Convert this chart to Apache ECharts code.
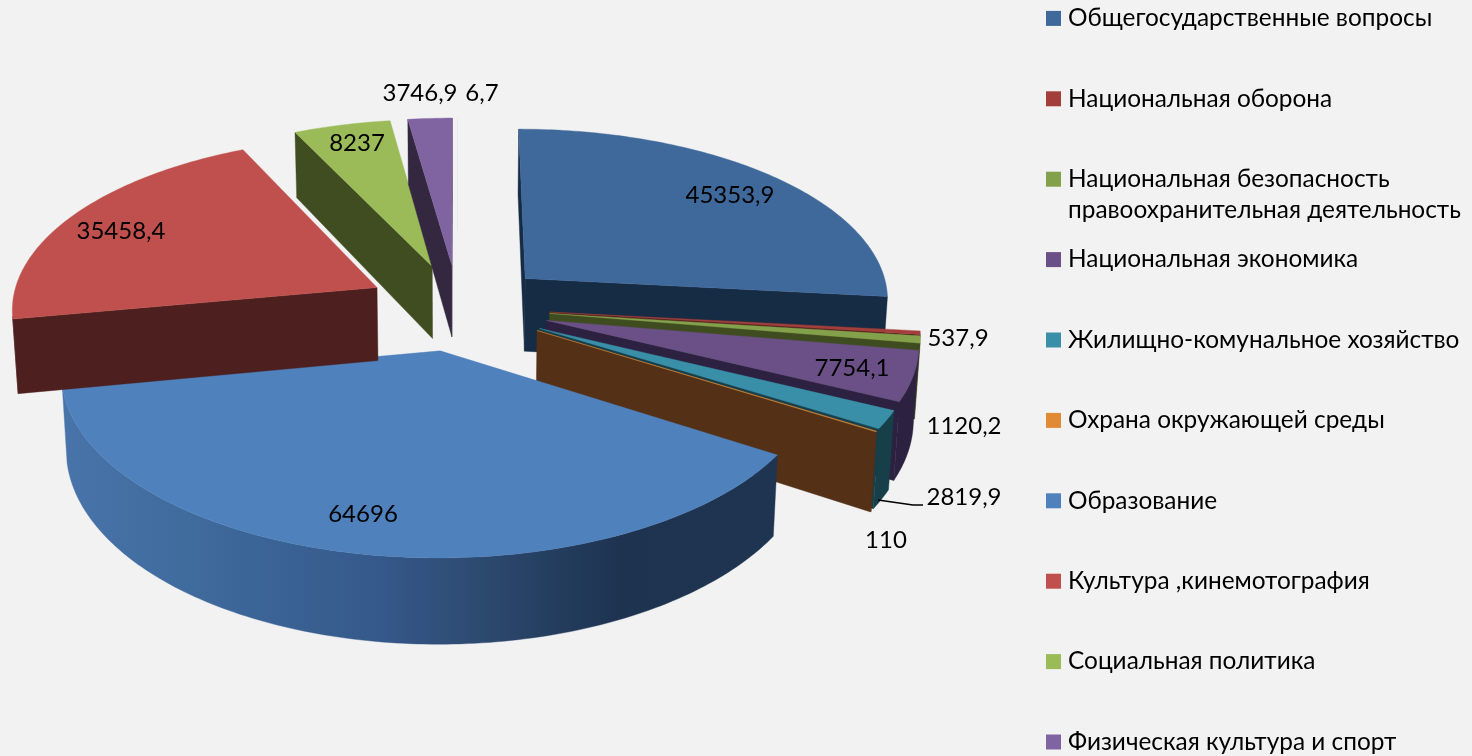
<!DOCTYPE html>
<html>
<head>
<meta charset="utf-8">
<style>
  html, body { margin: 0; padding: 0; background: #f2f2f2; }
  #chart { width: 1472px; height: 756px; }
</style>
<script src="https://cdn.jsdelivr.net/npm/echarts@6/dist/echarts.min.js"></script>
</head>
<body>
<div id="chart"></div>
<script>
// data
const categories = [
  "Общегосударственные вопросы",
  "Национальная оборона",
  "Национальная безопасность",
  "Национальная экономика",
  "Жилищно-комунальное хозяйство",
  "Охрана окружающей среды",
  "Образование",
  "Культура ,кинемотография",
  "Социальная политика",
  "Физическая культура и спорт",
  "Прочие"
];
const values = [45353.9, 537.9, 1120.2, 7754.1, 2819.9, 110, 64696, 35458.4, 8237, 3746.9, 6.7];
const valueLabels = ["45353,9", "537,9", "1120,2", "7754,1", "2819,9", "110", "64696", "35458,4", "8237", "3746,9", "6,7"];

// colours of the top face and the walls
const topColors = ["#3f689b", "#a33e3b", "#83a04a", "#6b5087", "#3a8fa8", "#e08a35", "#4f81bd", "#c0504d", "#9bbb59", "#8064a2", "#8064a2"];
const sideColors = ["#162b44", "#4a1b1a", "#3f4c20", "#2c2140", "#173f4a", "#543017", "#1e3450", "#4d1f1e", "#3f4d21", "#332840", "#332840"];
const legendColors = ["#3f689b", "#a33e3b", "#83a04a", "#6b5087", "#3a8fa8", "#e08a35", "#4f81bd", "#c0504d", "#9bbb59", "#8064a2"];

// label centres in page pixels
const labelCentres = [[730, 195], [958, 338], [964, 426], [852, 368], [964, 497], [886, 540], [363, 514], [121, 231], [357, 143], [420, 93], [482, 93]];

const FONT = "Lato, 'Open Sans', sans-serif";
const LABEL_SIZE = 24;
const LEGEND_SIZE = 24.4;

// perspective of the pie
const CX = 458, CY = 307;
const RADIUS = 366, EXPLODE = 92, DEPTH = 74;
const TILT = 0.4716, PERSP = 0.000312, PERSP_X = 0.0003, DROP = 0.012;

const total = values.reduce((a, b) => a + b, 0);
const rad = (deg) => deg * Math.PI / 180;

// start and end angle of each slice, clockwise from north
let sum = 0;
const angles = values.map((v) => {
  const from = sum / total * 360;
  sum += v;
  return [from, sum / total * 360];
});

const project = (x, y, z) => {
  const wx = 1 + PERSP_X * y + DROP * z;
  const wy = 1 + PERSP * y;
  return [CX + x / wx, CY - TILT * y / wy + DEPTH * z / wy];
};

// signed area, negative means the wall looks at the viewer
const area = (pts) => {
  let s = 0;
  pts.forEach((p, i) => {
    const q = pts[(i + 1) % pts.length];
    s += p[0] * q[1] - q[0] * p[1];
  });
  return s / 2;
};

const polygon = (points, fill, thin) => ({
  type: "polygon",
  shape: { points },
  style: thin ? { fill } : { fill, stroke: fill, lineWidth: 0.4 }
});

const renderSlice = (index) => (params, api) => {
  const [a0, a1] = angles[index];
  const thin = a1 - a0 < 0.1; // the 6,7 slice is narrower than a pixel
  const mid = rad((a0 + a1) / 2);
  const ox = EXPLODE * Math.sin(mid);
  const oy = EXPLODE * Math.cos(mid);
  const rim = (deg) => [ox + RADIUS * Math.sin(rad(deg)), oy + RADIUS * Math.cos(rad(deg))];

  const steps = Math.max(2, Math.ceil(a1 - a0));
  const arc = [];
  for (let i = 0; i <= steps; i++) arc.push(rim(a0 + (a1 - a0) * i / steps));

  const children = [];
  const wallFill = index === 6
    ? new echarts.graphic.LinearGradient(62, 0, 778, 0, [
        { offset: 0, color: "#4874aa" },
        { offset: 0.19, color: "#3f6a9c" },
        { offset: 0.45, color: "#35588a" },
        { offset: 0.58, color: "#2d4a70" },
        { offset: 0.78, color: "#1d3350" },
        { offset: 1, color: "#1e3450" }
      ], true)
    : sideColors[index];

  // radial walls, the one behind is dropped
  const wall = (u, v) => {
    const quad = [project(u[0], u[1], 0), project(v[0], v[1], 0), project(v[0], v[1], 1), project(u[0], u[1], 1)];
    if (area(quad) < 0) children.push(polygon(quad, sideColors[index], thin));
  };
  if (!thin) {
    wall([ox, oy], arc[0]);
    wall(arc[arc.length - 1], [ox, oy]);
  }

  // outer wall, only the part that looks at the viewer
  const upper = [], lower = [];
  for (let i = 0; i < arc.length - 1; i++) {
    const u = arc[i], v = arc[i + 1];
    const quad = [project(u[0], u[1], 0), project(v[0], v[1], 0), project(v[0], v[1], 1), project(u[0], u[1], 1)];
    if (area(quad) < 0) {
      if (!upper.length) { upper.push(quad[0]); lower.push(quad[3]); }
      upper.push(quad[1]);
      lower.push(quad[2]);
    }
  }
  if (upper.length) children.push(polygon(upper.concat(lower.reverse()), wallFill, thin));

  // top face
  const top = [project(ox, oy, 0)].concat(arc.map((p) => project(p[0], p[1], 0)));
  children.push(polygon(top, topColors[index], thin));

  // value label
  children.push({
    type: "text",
    z2: 10,
    style: {
      text: valueLabels[index],
      x: labelCentres[index][0],
      y: labelCentres[index][1],
      align: "center",
      verticalAlign: "middle",
      font: LABEL_SIZE + "px " + FONT,
      fill: "#000"
    }
  });

  // leader line of the 2819,9 label
  if (index === 4) {
    children.push({
      type: "polyline",
      z2: 10,
      shape: { points: [[878, 500], [913, 505], [923, 505]] },
      style: { stroke: "#000", lineWidth: 1.5, fill: null }
    });
  }
  return { type: "group", children };
};

// every slice is its own series so the legend gets one entry per slice
const series = categories.map((name, i) => ({
  type: "custom",
  name,
  coordinateSystem: "none",
  silent: true,
  animation: false,
  z: i + 1,
  itemStyle: { color: topColors[i] },
  data: [[values[i]]],
  renderItem: renderSlice(i)
}));

// one legend per entry, the reference keeps an even pitch down the right edge
const legend = categories.slice(0, 10).map((name, i) => ({
  data: [{ name, itemStyle: { color: legendColors[i] } }],
  left: 1046,
  top: 6.4 + i * 80.4,
  padding: 0,
  itemWidth: 15,
  itemHeight: 15,
  itemGap: 7,
  selectedMode: false,
  icon: "rect",
  textStyle: { fontFamily: FONT, fontSize: LEGEND_SIZE, color: "#000", padding: [0, 0, 0, 2] }
}));

const chart = echarts.init(document.getElementById("chart"), null, { renderer: "canvas" });
chart.setOption({
  backgroundColor: "#f2f2f2",
  animation: false,
  legend,
  series,
  graphic: [{
    type: "text",
    left: 1068,
    top: 198,
    silent: true,
    style: { text: "правоохранительная деятельность", font: LEGEND_SIZE + "px " + FONT, fill: "#000" }
  }]
});
</script>
</body>
</html>
